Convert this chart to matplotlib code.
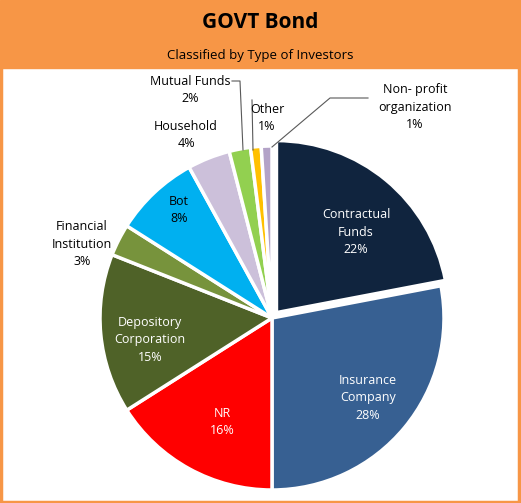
import matplotlib.pyplot as plt
from matplotlib.patches import Rectangle

labels = ["Contractual\nFunds", "Insurance\nCompany", "NR", "Depository\nCorporation",
          "Financial\nInstitution", "Bot", "Household", "Mutual Funds", "Other",
          "Non- profit\norganization"]
values = [22, 28, 16, 15, 3, 8, 4, 2, 1, 1]
colors = ["#10243E", "#376092", "#FF0000", "#4F6228", "#77933C", "#00B0F0",
          "#CCC0DA", "#92D050", "#FFC000", "#B3A2C7"]
explode = [7, 0, 0, 0, 0, 0, 0, 0, 0, 0]

W, H = 521, 503
fig = plt.figure(figsize=(W/100, H/100), dpi=100)
ax = fig.add_axes([0, 0, 1, 1])
ax.set_xlim(0, W); ax.set_ylim(0, H); ax.axis('off')

orange = "#F79646"
ax.add_patch(Rectangle((0, H-68), W, 68, color=orange, zorder=0))
ax.add_patch(Rectangle((1, 1), W-3, H-3, fill=False, ec=orange, lw=2.5, zorder=5))
ax.text(W/2, H-22, "GOVT Bond", ha='center', va='center', fontsize=15, fontweight='bold', family='Open Sans')
ax.text(W/2, H-55, "Classified by Type of Investors", ha='center', va='center', fontsize=9.5, family='Open Sans')

wedges, _ = ax.pie(values, colors=colors, explode=explode, startangle=90, counterclock=False,
                   center=(272, H-318), radius=172, frame=True,
                   wedgeprops=dict(edgecolor='white', linewidth=2.5))
ax.set_xlim(0, W); ax.set_ylim(0, H); ax.axis('off')

pos = [(356, 232, 'white'), (368, 398, 'white'), (222, 422, 'white'), (150, 340, 'white'),
       (82, 244, 'black'), (179, 210, 'black'), (186, 135, 'black'), (190, 90, 'black'),
       (267, 118, 'black'), (415, 107, 'black')]
for lab, v, (x, y, c) in zip(labels, values, pos):
    ax.text(x, H-y, f"{lab}\n{v}%", ha='center', va='center', fontsize=9, color=c,
            family='Open Sans', linespacing=1.45, zorder=6)

lc = '#595959'
ax.plot([232, 240, 243], [H-81, H-81, H-150], color=lc, lw=0.8)
ax.plot([252, 253], [H-100, H-150], color=lc, lw=0.8)
ax.plot([368, 330, 272], [H-98, H-98, H-147], color=lc, lw=0.8)

fig.savefig("out.png", dpi=100)
